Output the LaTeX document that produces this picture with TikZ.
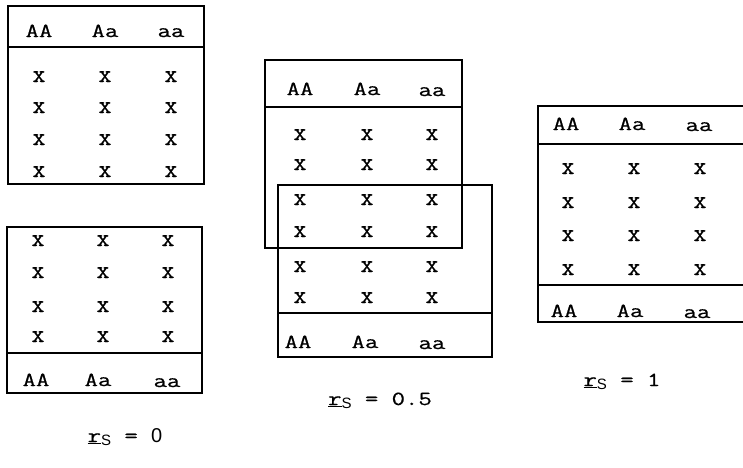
\documentclass[tikz,border=0pt]{standalone}
\usepackage{fontspec}
\newfontfamily\tw{Latin Modern Mono}[FakeStretch=1.3,FakeBold=0.6]
\newfontfamily\twx{Latin Modern Mono}[FakeBold=0.8]
\newfontfamily\sfx{Liberation Sans}
\begin{document}
\begin{tikzpicture}[x=1pt,y=-1pt,
  boxline/.style={line width=1.3pt,black},
  txt/.style={font=\tw\fontsize{20}{22}\selectfont,inner sep=0pt,anchor=base},
  xm/.style={font=\twx\fontsize{25}{27}\selectfont,inner sep=0pt,anchor=base},
  lbl/.style={font=\tw\fontsize{20}{22}\selectfont,inner sep=0pt,anchor=base}]
\useasboundingbox (0,0) rectangle (743,467);
% ---- Box 1 (top left)
\draw[boxline] (8,6) rectangle (204,184);
\draw[boxline] (8,47) -- (204,47);
\node[txt] (b1h1) at (39,37) {AA};
\node[txt] (b1h2) at (105,37) {Aa};
\node[txt] (b1h3) at (171,37) {aa};
\foreach \r/\y in {1/82,2/113,3/145,4/177}{
  \foreach \c/\x in {1/39,2/105,3/171}{
    \node[xm] (b1x\r\c) at (\x,\y) {x};
  }
}
% ---- Box 2 (bottom left)
\draw[boxline] (7,227) rectangle (202,393);
\draw[boxline] (7,353) -- (202,353);
\foreach \r/\y in {1/246,2/278,3/312,4/342}{
  \foreach \c/\x in {1/38,2/103,3/168}{
    \node[xm] (b2x\r\c) at (\x,\y) {x};
  }
}
\node[txt] (b2h1) at (36,386) {AA};
\node[txt] (b2h2) at (98,386) {Aa};
\node[txt] (b2h3) at (167,387) {aa};
\node[lbl] (l0) at (125,442) {\underline{r}\raisebox{-3pt}{\sfx\fontsize{15}{16}\selectfont S} = {\sfx 0}};
% ---- Box 3 (middle, overlapping)
\draw[boxline] (265,60) rectangle (462,248);
\draw[boxline] (265,107) -- (462,107);
\draw[boxline] (278,185) rectangle (492,357);
\draw[boxline] (278,313) -- (492,313);
\node[txt] (b3h1) at (300,95) {AA};
\node[txt] (b3h2) at (367,95) {Aa};
\node[txt] (b3h3) at (432,96) {aa};
\foreach \r/\y in {1/140,2/170,3/205,4/237,5/272,6/303}{
  \foreach \c/\x in {1/300,2/367,3/432}{
    \node[xm] (b3x\r\c) at (\x,\y) {x};
  }
}
\node[txt] (b3f1) at (298,348) {AA};
\node[txt] (b3f2) at (365,348) {Aa};
\node[txt] (b3f3) at (432,349) {aa};
\node[lbl] (l05) at (380,405) {\underline{r}\raisebox{-3pt}{\sfx\fontsize{15}{16}\selectfont S} = 0.5};
% ---- Box 4 (right, open at the right edge)
\draw[boxline] (745,106) -- (538,106) -- (538,322) -- (745,322);
\draw[boxline] (538,144) -- (745,144);
\draw[boxline] (538,285) -- (745,285);
\node[txt] (b4h1) at (566,130) {AA};
\node[txt] (b4h2) at (632,130) {Aa};
\node[txt] (b4h3) at (699,131) {aa};
\foreach \r/\y in {1/174,2/208,3/241,4/275}{
  \foreach \c/\x in {1/568,2/634,3/700}{
    \node[xm] (b4x\r\c) at (\x,\y) {x};
  }
}
\node[txt] (b4f1) at (564,317) {AA};
\node[txt] (b4f2) at (630,317) {Aa};
\node[txt] (b4f3) at (697,318) {aa};
\node[lbl] (l1) at (622,386) {\underline{r}\raisebox{-3pt}{\sfx\fontsize{15}{16}\selectfont S} = 1};
\end{tikzpicture}
\end{document}
